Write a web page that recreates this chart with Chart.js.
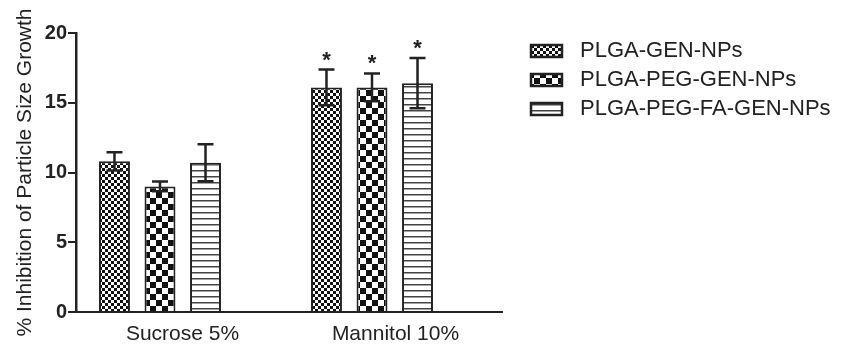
<!DOCTYPE html>
<html>
<head>
<meta charset="utf-8">
<script src="https://cdn.jsdelivr.net/npm/chart.js@4"></script>
<style>
  body { margin: 0; background: #fff; }
  #wrap { width: 845px; height: 345px; position: relative; }
</style>
</head>
<body>
<div id="wrap"><canvas id="growthChart"></canvas></div>
<script>
// values
const categories = ['Sucrose 5%', 'Mannitol 10%'];
const groupX = [1, 2];
const seriesNames = ['PLGA-GEN-NPs', 'PLGA-PEG-GEN-NPs', 'PLGA-PEG-FA-GEN-NPs'];
const plgaGen = [10.8, 16.1];
const plgaGenErr = [0.65, 1.28];
const pegGen = [9.0, 16.1];
const pegGenErr = [0.35, 1.0];
const faGen = [10.7, 16.4];
const faGenErr = [1.33, 1.8];
const significant = [false, true];
const yTicks = [0, 5, 10, 15, 20];

const ink = '#222';
const font = 'Arial, "Liberation Sans", sans-serif';

function makePattern(w, h, draw) {
    const c = document.createElement('canvas');
    c.width = w;
    c.height = h;
    const g = c.getContext('2d');
    g.fillStyle = '#fff';
    g.fillRect(0, 0, w, h);
    draw(g);
    return g.createPattern(c, 'repeat');
}

const fineChecker = makePattern(6, 6, g => {
    g.fillStyle = '#111';
    g.fillRect(0, 0, 3, 3);
    g.fillRect(3, 3, 3, 3);
});
const bigChecker = makePattern(12, 12, g => {
    g.fillStyle = '#111';
    g.fillRect(0, 0, 6, 6);
    g.fillRect(6, 6, 6, 6);
});
const stripes = makePattern(6, 6, g => {
    g.fillStyle = '#444';
    g.fillRect(0, 2, 6, 1.5);
});

function toPoints(vals) {
    return groupX.map((x, i) => ({ x: x, y: vals[i] }));
}

const errorBars = {
    id: 'errorBars',
    afterDatasetsDraw(chart) {
        const ctx = chart.ctx;
        const y = chart.scales.y;
        ctx.save();
        ctx.strokeStyle = ink;
        ctx.lineWidth = 2.5;
        chart.data.datasets.forEach((ds, di) => {
            const meta = chart.getDatasetMeta(di);
            meta.data.forEach((bar, i) => {
                const v = ds.data[i].y, e = ds.errors[i];
                const top = y.getPixelForValue(v + e);
                const bot = y.getPixelForValue(v - e);
                ctx.beginPath();
                ctx.moveTo(bar.x, top);
                ctx.lineTo(bar.x, bot);
                ctx.moveTo(bar.x - 8, top);
                ctx.lineTo(bar.x + 8, top);
                ctx.moveTo(bar.x - 8, bot);
                ctx.lineTo(bar.x + 8, bot);
                ctx.stroke();
                if (significant[i]) {
                    ctx.fillStyle = ink;
                    ctx.font = 'bold 22px ' + font;
                    ctx.textAlign = 'center';
                    ctx.textBaseline = 'alphabetic';
                    ctx.fillText('*', bar.x, top - 3);
                }
            });
        });
        ctx.restore();
    }
};

const sideLegend = {
    id: 'sideLegend',
    afterDraw(chart) {
        const ctx = chart.ctx;
        ctx.save();
        ctx.font = '22px ' + font;
        ctx.textBaseline = 'middle';
        ctx.textAlign = 'left';
        chart.data.datasets.forEach((ds, i) => {
            const cy = 51 + i * 29;
            ctx.fillStyle = ds.backgroundColor;
            ctx.fillRect(531, cy - 6, 31, 12);
            ctx.strokeStyle = ink;
            ctx.lineWidth = 2.5;
            ctx.strokeRect(531, cy - 6, 31, 12);
            ctx.fillStyle = ink;
            ctx.fillText(ds.label, 580, cy);
        });
        ctx.restore();
    }
};

const barStyle = { borderColor: ink, borderWidth: 2, xAxisID: 'xb', categoryPercentage: 0.644, barPercentage: 0.68 };

new Chart(document.getElementById('growthChart'), {
    type: 'bar',
    data: {
        datasets: [
            Object.assign({ label: seriesNames[0], data: toPoints(plgaGen), errors: plgaGenErr, backgroundColor: fineChecker }, barStyle),
            Object.assign({ label: seriesNames[1], data: toPoints(pegGen), errors: pegGenErr, backgroundColor: bigChecker }, barStyle),
            Object.assign({ label: seriesNames[2], data: toPoints(faGen), errors: faGenErr, backgroundColor: stripes }, barStyle)
        ]
    },
    plugins: [errorBars, sideLegend],
    options: {
        responsive: true,
        maintainAspectRatio: false,
        animation: false,
        layout: { padding: { top: 33, right: 343, left: 0, bottom: 0 } },
        plugins: { legend: { display: false }, tooltip: { enabled: false } },
        scales: {
            xb: {
                type: 'linear',
                display: false,
                offset: false,
                min: 0.6038,
                max: 2.6132,
                afterBuildTicks(scale) { scale.ticks = groupX.map(v => ({ value: v })); }
            },
            x: {
                type: 'category',
                labels: categories,
                offset: true,
                grid: { display: false, drawTicks: false },
                border: { display: true, color: ink, width: 2 },
                ticks: { color: ink, font: { family: font, size: 21 }, padding: 10, maxRotation: 0 },
                afterFit(scale) { scale.height = 33; }
            },
            y: {
                min: 0,
                max: 20,
                afterBuildTicks(scale) { scale.ticks = yTicks.map(v => ({ value: v })); },
                grid: { display: true, drawOnChartArea: false, drawTicks: true, tickLength: 8, color: ink, lineWidth: 2 },
                border: { display: true, color: ink, width: 2.5 },
                ticks: { color: ink, font: { family: font, size: 20, weight: 'bold' }, padding: 1 },
                title: {
                    display: true,
                    text: '% Inhibition of Particle Size Growth',
                    color: ink,
                    font: { family: font, size: 21 },
                    padding: { top: 13, bottom: 0 }
                },
                afterFit(scale) { scale.width = 76; }
            }
        }
    }
});
</script>
</body>
</html>
